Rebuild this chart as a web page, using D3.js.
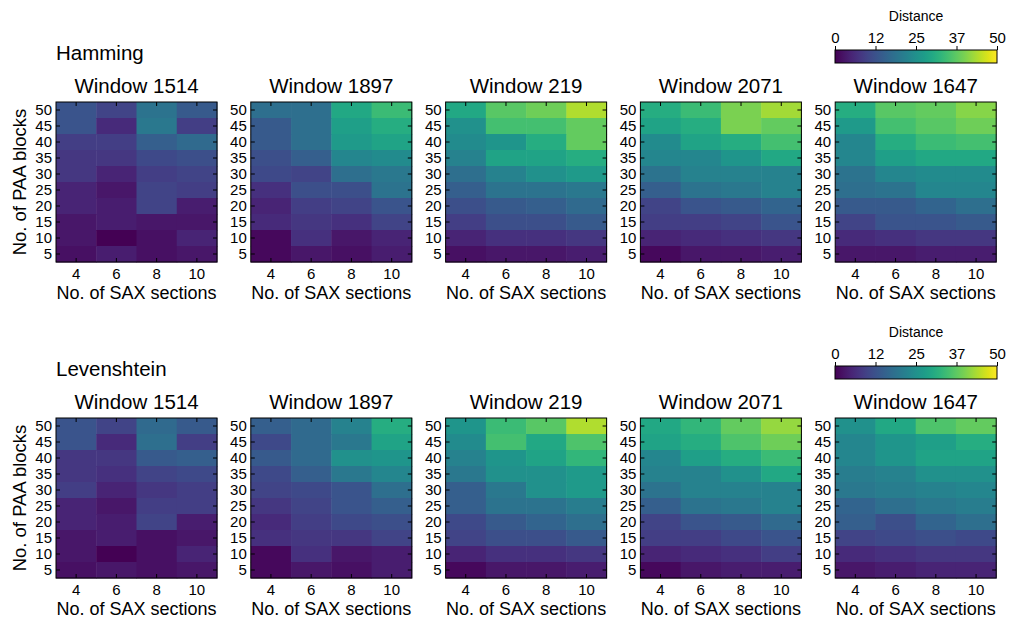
<!DOCTYPE html>
<html>
<head>
<meta charset="utf-8">
<script src="https://cdn.jsdelivr.net/npm/d3@7"></script>
<style>
  body { margin: 0; background: #fff; }
  svg { font-family: "Liberation Sans", Arial, sans-serif; }
</style>
</head>
<body>
<div id="chart"></div>
<script>
// SAX sections (columns) and PAA blocks (rows)
const sax = [4, 6, 8, 10];
const paa = [5, 10, 15, 20, 25, 30, 35, 40, 45, 50];
const windows = ["1514", "1897", "219", "2071", "1647"];
const metrics = ["Hamming", "Levenshtein"];
const cbTicks = [0, 12.5, 25, 37.5, 50];
const cbLabels = ["0", "12", "25", "37", "50"];

// each matrix: rows from PAA 50 (top) down to PAA 5, columns SAX 4,6,8,10
const ham1514 = [[13,10,19,14],[13,6,20,9],[9,9,15,17],[8,8,11,12],[8,5,9,10],[5,3,10,9],[5,4,10,4],[3,4,3,3],[3,0,2,5],[2,4,2,3]];
const ham1897 = [[18,18,30,34],[14,18,28,31],[14,18,27,29],[12,15,23,24],[11,10,18,20],[7,12,12,19],[5,9,10,13],[6,8,7,10],[1,7,3,5],[1,3,2,4]];
const ham219  = [[30,37,39,44],[25,35,35,38],[24,26,31,38],[22,29,29,31],[18,22,25,27],[15,19,19,20],[12,14,15,17],[9,12,12,14],[5,7,7,8],[2,3,3,4]];
const ham2071 = [[31,34,40,43],[29,31,40,38],[24,29,31,35],[23,23,26,30],[19,22,22,22],[15,19,20,22],[10,13,14,16],[9,9,10,13],[5,6,7,8],[1,3,3,4]];
const ham1647 = [[31,37,38,41],[27,35,37,39],[23,31,34,35],[23,28,30,30],[19,23,24,24],[18,19,23,23],[14,14,16,18],[10,13,13,14],[6,7,8,8],[3,3,4,4]];

const lev1514 = [[13,10,17,14],[13,6,18,9],[8,8,14,15],[8,7,10,11],[9,5,8,9],[5,3,9,9],[5,4,10,4],[3,4,2,3],[3,0,2,5],[2,3,2,3]];
const lev1897 = [[15,17,22,31],[11,17,20,29],[14,17,25,26],[11,15,20,23],[10,11,13,18],[8,10,13,15],[6,9,11,12],[7,8,8,10],[1,7,3,4],[1,3,2,4]];
const lev219  = [[26,34,37,44],[24,35,30,36],[22,26,29,33],[20,25,25,27],[15,20,25,27],[15,19,19,21],[11,14,16,18],[10,12,12,14],[5,7,7,8],[1,3,3,4]];
const lev2071 = [[30,33,38,42],[29,31,36,39],[23,28,31,34],[22,22,25,30],[19,22,22,22],[15,19,20,22],[10,13,14,17],[9,9,11,13],[5,6,7,9],[1,3,4,4]];
const lev1647 = [[25,30,36,38],[23,26,28,31],[23,26,29,29],[21,22,25,25],[20,21,22,23],[16,18,20,21],[15,12,16,18],[10,11,12,11],[6,7,8,8],[3,4,5,5]];

const matrices = [
  [ham1514, ham1897, ham219, ham2071, ham1647],
  [lev1514, lev1897, lev219, lev2071, lev1647]
];

const W = 1010, H = 621;
const plotW = 161, plotH = 160;
const x0 = 56, dx = 194.8;
const rowTop = [102, 418];

const color = d3.scaleSequential(d3.interpolateViridis).domain([0, 50]);

const svg = d3.select("#chart").append("svg")
  .attr("width", W).attr("height", H);

// gradient for the colorbars
const grad = svg.append("defs").append("linearGradient")
  .attr("id", "viridis").attr("x1", "0%").attr("x2", "100%");
grad.selectAll("stop").data(d3.range(0, 1.0001, 0.05)).join("stop")
  .attr("offset", d => d * 100 + "%")
  .attr("stop-color", d => d3.interpolateViridis(d));

const x = d3.scaleBand().domain(sax).range([0, plotW]);
const y = d3.scaleBand().domain(paa).range([plotH, 0]);
const rowsTopDown = paa.slice().reverse();

metrics.forEach((metric, mi) => {
  const top = rowTop[mi];

  svg.append("text")
    .attr("x", 56).attr("y", top - 42)
    .attr("font-size", 20.5)
    .text(metric);

  windows.forEach((win, wi) => {
    const g = svg.append("g")
      .attr("transform", `translate(${x0 + wi * dx},${top})`);

    const cells = [];
    matrices[mi][wi].forEach((row, ri) => {
      row.forEach((v, ci) => cells.push({ p: rowsTopDown[ri], s: sax[ci], v }));
    });

    g.selectAll("rect.cell").data(cells).join("rect")
      .attr("class", "cell")
      .attr("x", d => x(d.s))
      .attr("y", d => y(d.p))
      .attr("width", x.bandwidth() + 0.5)
      .attr("height", y.bandwidth() + 0.5)
      .attr("fill", d => color(d.v));

    const ax = g.append("g");

    ax.append("g").call(d3.axisLeft(y).tickSize(-4).tickPadding(4));
    ax.append("g").attr("transform", `translate(${plotW},0)`)
      .call(d3.axisRight(y).tickSize(-4).tickFormat(""));
    ax.append("g").attr("transform", `translate(0,${plotH})`)
      .call(d3.axisBottom(x).tickSize(-4).tickPadding(6));
    ax.append("g").call(d3.axisTop(x).tickSize(-4).tickFormat(""));

    ax.selectAll(".domain").remove();
    ax.selectAll("text").attr("fill", "#000").attr("font-family", null).attr("font-size", 15);
    ax.selectAll("line").attr("stroke", "#000").attr("stroke-width", 1);

    g.append("rect")
      .attr("x", 0).attr("y", 0)
      .attr("width", plotW).attr("height", plotH)
      .attr("fill", "none").attr("stroke", "#000").attr("stroke-width", 1);

    g.append("text")
      .attr("x", plotW / 2).attr("y", -9)
      .attr("text-anchor", "middle")
      .attr("font-size", 20.5)
      .text("Window " + win);

    g.append("text")
      .attr("x", plotW / 2).attr("y", plotH + 37)
      .attr("text-anchor", "middle")
      .attr("font-size", 18)
      .text("No. of SAX sections");

    if (wi === 0) {
      g.append("text")
        .attr("transform", `translate(-30,${plotH / 2}) rotate(-90)`)
        .attr("text-anchor", "middle")
        .attr("font-size", 18.5)
        .text("No. of PAA blocks");
    }
  });

  // colorbar
  const cbX = 835, cbY = top - 52, cbW = 162, cbH = 13;
  const cb = svg.append("g").attr("transform", `translate(${cbX},${cbY})`);
  const cs = d3.scaleLinear().domain([0, 50]).range([0, cbW]);
  cb.append("rect")
    .attr("width", cbW).attr("height", cbH)
    .attr("fill", "url(#viridis)")
    .attr("stroke", "#000").attr("stroke-width", 1);
  const cax = cb.append("g")
    .call(d3.axisTop(cs).tickValues(cbTicks).tickFormat((d, i) => cbLabels[i]).tickSize(4).tickPadding(3));
  cax.select(".domain").remove();
  cax.selectAll("text").attr("font-family", null).attr("font-size", 15).attr("fill", "#000");
  cax.selectAll("line").attr("stroke", "#000");
  cb.append("text")
    .attr("x", cbW / 2).attr("y", -29)
    .attr("text-anchor", "middle")
    .attr("font-size", 14)
    .text("Distance");
});
</script>
</body>
</html>
